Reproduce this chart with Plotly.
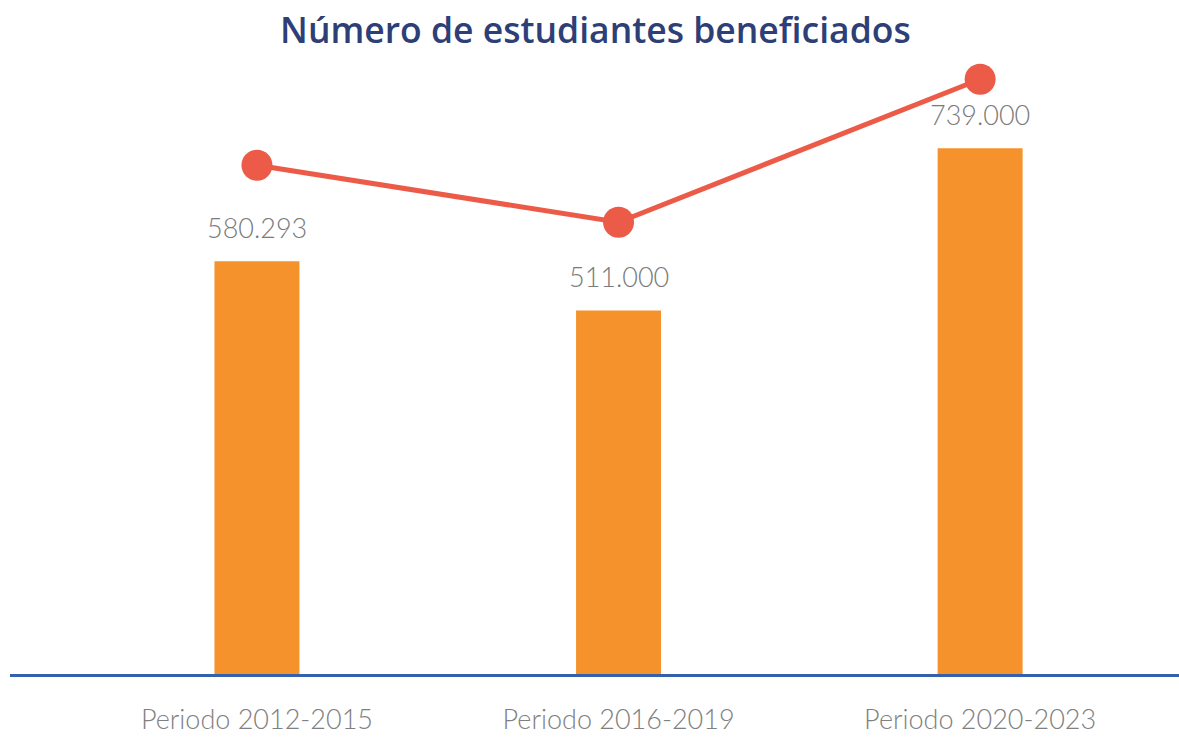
import plotly.graph_objects as go

categories = ["Periodo 2012-2015", "Periodo 2016-2019", "Periodo 2020-2023"]
students = [580293, 511000, 739000]
labels = ["580.293", "511.000", "739.000"]
trend = [715000, 635000, 836000]

fig = go.Figure()
fig.add_trace(go.Bar(
    x=categories, y=students, width=0.235,
    marker=dict(color="#F5922B", line=dict(width=0)),
    hoverinfo="skip",
))
fig.add_trace(go.Scatter(
    x=categories, y=trend, mode="lines+markers",
    line=dict(color="#EC5B48", width=5),
    marker=dict(color="#EC5B48", size=31),
    hoverinfo="skip",
))
for c, v, t in zip(categories, students, labels):
    fig.add_annotation(x=c, y=v, text=t, showarrow=False, yanchor="middle",
                       yshift=34, font=dict(family="Lato", size=27, color="#7b7b7b", weight=300))

fig.update_layout(
    width=1179, height=739,
    paper_bgcolor="white", plot_bgcolor="white",
    showlegend=False,
    margin=dict(l=10, r=0, t=60, b=65, autoexpand=False),
    title=dict(text="Número de estudiantes beneficiados", x=0.505, xanchor="center",
               y=0.959, yanchor="middle",
               font=dict(family="Open Sans", size=35.5, color="#2E3F77", weight=600)),
    xaxis=dict(type="category", range=[-0.683, 2.55], showgrid=False, automargin=False,
               showline=True, linecolor="#3560AE", linewidth=3,
               ticks="", ticklabelstandoff=20,
               tickfont=dict(family="Lato", size=27, color="#808080", weight=300)),
    yaxis=dict(range=[0, 863000], visible=False, showgrid=False, zeroline=False, automargin=False),
)

fig.write_html("out.html", config={"displayModeBar": False},
               post_script="document.body.style.margin='0';")
